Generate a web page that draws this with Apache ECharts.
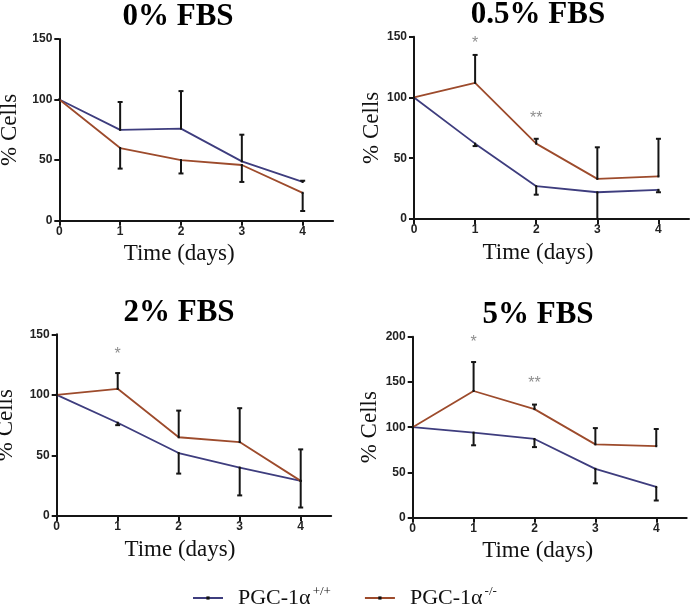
<!DOCTYPE html>
<html>
<head>
<meta charset="utf-8">
<script src="https://cdn.jsdelivr.net/npm/echarts@6/dist/echarts.min.js"></script>
<style>html,body{margin:0;padding:0;background:#fff}#c{width:691px;height:612px}</style>
</head>
<body>
<div id="c"></div>
<script>
// ---- data ----
var days = [0, 1, 2, 3, 4];
var panelTitles = ['0% FBS', '0.5% FBS', '2% FBS', '5% FBS'];
var seriesNames = ['PGC-1α+/+', 'PGC-1α-/-'];
var xTickLabels = [0, 1, 2, 3, 4];
var yMax = [150, 150, 150, 200];

var wt0 = [100, 75, 76, 49, 32];
var wt0Err = [0, 23, 31, 22, 1];
var ko0 = [100, 60, 50, 46, 23];
var ko0Err = [0, 17, 11, 14, 15];

var wt05 = [100, 62, 27, 22, 24];
var wt05Err = [0, 2, 7, 22, 2];
var ko05 = [100, 112, 62, 33, 35];
var ko05Err = [0, 23, 4, 26, 31];

var wt2 = [100, 77, 52, 40, 29];
var wt2Err = [0, 2, 17, 23, 22];
var ko2 = [100, 105, 65, 61, 29];
var ko2Err = [0, 13, 22, 28, 26];

var wt5 = [100, 94, 87, 54, 34];
var wt5Err = [0, 14, 9, 16, 15];
var ko5 = [100, 140, 120, 81, 79];
var ko5Err = [0, 32, 5, 18, 19];

// error bar direction per panel: +1 up, -1 down
var wtDir = [1, -1, -1, -1];
var koDir = [-1, 1, 1, 1];

// significance marks: [day, y, text]
var stars05 = [[1, 147, '*'], [2, 85, '**']];
var stars2 = [[1, 136, '*']];
var stars5 = [[1, 197, '*'], [2, 151, '**']];

// ---- layout / style ----
var WT_COLOR = '#3e3d7e';
var KO_COLOR = '#9d4b2c';
var grids = [
  {left: 59.3, top: 39, width: 273.8, height: 181.7, outerBoundsMode: 'none'},
  {left: 414, top: 36.7, width: 275, height: 182.3, outerBoundsMode: 'none'},
  {left: 56.7, top: 334.3, width: 274.5, height: 181.7, outerBoundsMode: 'none'},
  {left: 412.7, top: 336.7, width: 274, height: 181, outerBoundsMode: 'none'}
];
var yNameGaps = [38, 31, 39, 31];
var xNameShift = [34, 27, 28, 24];
var titlePos = [[178, 17], [538, 15], [179, 313], [538, 315]];

var wtAll = [wt0, wt05, wt2, wt5];
var wtErrAll = [wt0Err, wt05Err, wt2Err, wt5Err];
var koAll = [ko0, ko05, ko2, ko5];
var koErrAll = [ko0Err, ko05Err, ko2Err, ko5Err];
var starsAll = [[], stars05, stars2, stars5];

function pairs(vals) { return days.map(function (d, i) { return [d, vals[i]]; }); }
function errData(vals, errs, dir) {
  var out = [];
  days.forEach(function (d, i) { if (errs[i] > 0) out.push([d, vals[i], vals[i] + dir * errs[i]]); });
  return out;
}
function renderErr(params, api) {
  var p0 = api.coord([api.value(0), api.value(1)]);
  var p1 = api.coord([api.value(0), api.value(2)]);
  var hw = 2.5;
  var st = {stroke: '#151515', lineWidth: 2};
  return {type: 'group', children: [
    {type: 'line', shape: {x1: p0[0], y1: p0[1], x2: p1[0], y2: p1[1]}, style: st},
    {type: 'line', shape: {x1: p1[0] - hw, y1: p1[1], x2: p1[0] + hw, y2: p1[1]}, style: st}
  ]};
}

var axisFont = {fontFamily: 'Liberation Sans', fontWeight: 'bold', fontSize: 12, color: '#222'};
var axisLineStyle = {color: '#151515', width: 2};

var xAxes = [], yAxes = [], series = [], graphics = [];
for (var k = 0; k < 4; k++) {
  xAxes.push({
    type: 'value', gridIndex: k, min: 0, max: 4.5, interval: 1,
    axisLine: {onZero: false, lineStyle: axisLineStyle},
    axisTick: {length: 5, lineStyle: {width: 2, color: '#151515'}, customValues: xTickLabels},
    axisLabel: Object.assign({margin: 5, customValues: xTickLabels}, axisFont),
    splitLine: {show: false},
    name: 'Time (days)', nameLocation: 'middle', nameGap: 22,
    nameTextStyle: {fontFamily: 'Liberation Serif', fontSize: 23, color: '#111',
                    padding: [0, xNameShift[k], 0, 0]}
  });
  yAxes.push({
    type: 'value', gridIndex: k, min: 0, max: yMax[k], interval: 50,
    axisLine: {show: true, lineStyle: axisLineStyle},
    axisTick: {show: true, length: 5, lineStyle: {width: 2, color: '#151515'}},
    axisLabel: Object.assign({margin: 7}, axisFont),
    splitLine: {show: false},
    name: '% Cells', nameLocation: 'middle', nameGap: yNameGaps[k],
    nameTextStyle: {fontFamily: 'Liberation Serif', fontSize: 23, color: '#111'}
  });
  series.push({
    name: seriesNames[0], type: 'line', xAxisIndex: k, yAxisIndex: k, data: pairs(wtAll[k]),
    symbol: 'rect', symbolSize: 2, showSymbol: true, itemStyle: {color: '#111'},
    lineStyle: {color: WT_COLOR, width: 1.8}, color: WT_COLOR, z: 3, animation: false
  });
  series.push({
    name: seriesNames[1], type: 'line', xAxisIndex: k, yAxisIndex: k, data: pairs(koAll[k]),
    symbol: 'rect', symbolSize: 2, showSymbol: true, itemStyle: {color: '#111'},
    lineStyle: {color: KO_COLOR, width: 1.8}, color: KO_COLOR, z: 3, animation: false
  });
  series.push({
    type: 'custom', xAxisIndex: k, yAxisIndex: k, renderItem: renderErr,
    encode: {x: 0, y: [1, 2]}, data: errData(wtAll[k], wtErrAll[k], wtDir[k]), z: 4, animation: false
  });
  series.push({
    type: 'custom', xAxisIndex: k, yAxisIndex: k, renderItem: renderErr,
    encode: {x: 0, y: [1, 2]}, data: errData(koAll[k], koErrAll[k], koDir[k]), z: 4, animation: false
  });
  if (starsAll[k].length) {
    series.push({
      type: 'scatter', xAxisIndex: k, yAxisIndex: k, symbolSize: 0, silent: true,
      data: starsAll[k].map(function (s) { return {value: [s[0], s[1]], name: s[2]}; }),
      label: {show: true, position: 'inside', formatter: '{b}', color: '#707070', fontSize: 16,
              fontFamily: 'Liberation Sans', offset: [0, 3]},
      animation: false
    });
  }
  graphics.push({
    type: 'text', x: titlePos[k][0], y: titlePos[k][1],
    style: {text: panelTitles[k], font: 'bold 31px "Liberation Serif"', fill: '#000',
            textAlign: 'center', textVerticalAlign: 'middle'}
  });
}

var chart = echarts.init(document.getElementById('c'), null, {renderer: 'canvas'});
chart.setOption({
  animation: false,
  backgroundColor: '#fff',
  grid: grids,
  xAxis: xAxes,
  yAxis: yAxes,
  series: series,
  graphic: graphics,
  legend: {
    data: seriesNames, left: 192, top: 585, padding: 0, itemWidth: 30, itemHeight: 4, itemGap: 33,
    formatter: function (n) {
      var i = n.indexOf('α');
      return '{n|' + n.slice(0, i + 1) + '}{s|' + n.slice(i + 1) + '}';
    },
    textStyle: {
      rich: {
        n: {fontFamily: 'Liberation Serif', fontSize: 22, color: '#111', padding: [0, 0, 0, 10], lineHeight: 26},
        s: {fontFamily: 'Liberation Serif', fontSize: 13, color: '#111', verticalAlign: 'top', padding: [0, 0, 0, 2]}
      }
    }
  }
});
</script>
</body>
</html>
